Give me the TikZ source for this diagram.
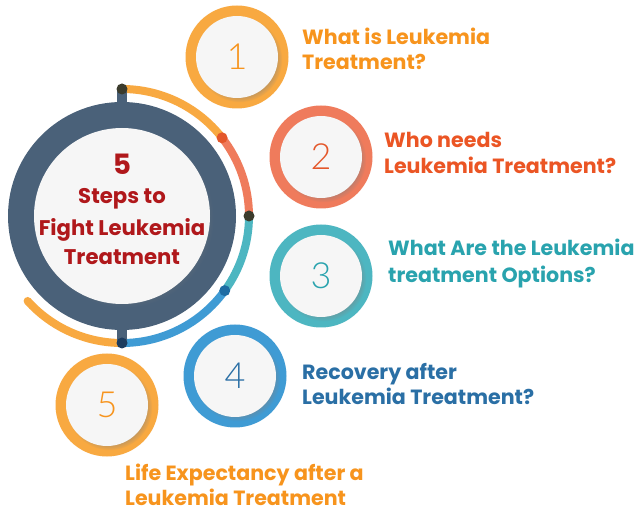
\documentclass[tikz,border=0pt]{standalone}
\usepackage{fontspec}
\usetikzlibrary{shadows}
\setmainfont{Poppins}
\newfontfamily\digitfont{Lato Light}
\definecolor{slate}{HTML}{4A6179}
\definecolor{ringOr}{HTML}{F8A941}
\definecolor{ringSa}{HTML}{EF7B5C}
\definecolor{ringTe}{HTML}{4DB6C1}
\definecolor{ringBl}{HTML}{3F9BD4}
\definecolor{txOr}{HTML}{F7941D}
\definecolor{txRe}{HTML}{EB5524}
\definecolor{txTe}{HTML}{29A3AE}
\definecolor{txBl}{HTML}{2A6FA5}
\definecolor{ctr}{HTML}{B0181B}
\definecolor{paper}{HTML}{F6F6F6}
\definecolor{dotOl}{HTML}{3B3B2C}
\definecolor{dotRe}{HTML}{E4572A}
\definecolor{dotBl}{HTML}{1E6CA3}
\definecolor{dotNv}{HTML}{1D3C5E}
\tikzset{
  smallring/.style={circle,minimum size=103pt,inner sep=0pt},
  smallin/.style={circle,minimum size=82pt,inner sep=0pt,fill=paper,
    circular drop shadow={shadow xshift=2.5pt,shadow yshift=-2.5pt,shadow scale=1.04,opacity=0.45}},
  digit/.style={font=\digitfont\fontsize{36}{36}\selectfont},
  lbl/.style={anchor=base west,inner sep=0pt,font=\bfseries\fontsize{20.6}{20.6}\selectfont},
  ctrtxt/.style={anchor=base,inner sep=0pt,text=ctr,font=\bfseries\fontsize{21.2}{21.2}\selectfont},
  dotmark/.style={circle,inner sep=0pt,minimum size=11pt}
}
\begin{document}
\begin{tikzpicture}[x=1pt,y=1pt]
\useasboundingbox[fill=white] (0,0) rectangle (640,-518);
\coordinate (C) at (122,-216);
% outer arc
\draw[ringOr,line width=8pt] ([shift={(90:127)}]C) arc[start angle=90,end angle=38,radius=127];
\draw[ringSa,line width=8pt] ([shift={(38:127)}]C) arc[start angle=38,end angle=0,radius=127];
\draw[ringTe,line width=8pt] ([shift={(0:127)}]C) arc[start angle=0,end angle=-36,radius=127];
\draw[ringBl,line width=8pt] ([shift={(-36:127)}]C) arc[start angle=-36,end angle=-90,radius=127];
\draw[ringOr,line width=8pt,line cap=round] ([shift={(-90:127)}]C) arc[start angle=-90,end angle=-138,radius=127];
% stems
\coordinate (stT) at (122,-89);
\coordinate (stB) at (122,-343);
\draw[slate,line width=10pt] (stT) -- (C);
\draw[slate,line width=10pt] (stB) -- (C);
% main ring
\node[circle,fill=slate,minimum size=228pt,inner sep=0pt] (mainout) at (C) {};
\node[circle,fill=paper,minimum size=176pt,inner sep=0pt,
  circular drop shadow={shadow xshift=2pt,shadow yshift=-2pt,shadow scale=1.02,opacity=0.35}] (main) at (C) {};
% dots
\node[dotmark,fill=dotOl] (d1) at ([shift={(90:127)}]C) {};
\node[dotmark,fill=dotRe] (d2) at ([shift={(38:127)}]C) {};
\node[dotmark,fill=dotOl] (d3) at ([shift={(0:127)}]C) {};
\node[dotmark,fill=dotBl] (d4) at ([shift={(-36:127)}]C) {};
\node[dotmark,fill=dotNv] (d5) at ([shift={(-90:127)}]C) {};
% center text
\node[ctrtxt,font=\bfseries\fontsize{28}{28}\selectfont] (c1) at (122,-175) {5};
\node[ctrtxt] (c2) at (122,-204) {Steps to};
\node[ctrtxt] (c3) at (122,-236) {Fight Leukemia};
\node[ctrtxt] (c4) at (122,-265) {Treatment};
% small circles
\node[smallring,fill=ringOr] (s1) at (237,-57) {};
\node[smallring,fill=ringSa] (s2) at (321,-157) {};
\node[smallring,fill=ringTe] (s3) at (321,-276) {};
\node[smallring,fill=ringBl] (s4) at (235,-376) {};
\node[smallring,fill=ringOr] (s5) at (107,-405) {};
\node[smallin] (i1) at (s1) {};
\node[smallin] (i2) at (s2) {};
\node[smallin] (i3) at (s3) {};
\node[smallin] (i4) at (s4) {};
\node[smallin] (i5) at (s5) {};
\node[digit,text=txOr] (n1) at (s1) {1};
\node[digit,text=dotRe] (n2) at (s2) {2};
\node[digit,text=txTe] (n3) at (s3) {3};
\node[digit,text=txBl] (n4) at (s4) {4};
\node[digit,text=txOr] (n5) at (s5) {5};
% labels
\node[lbl,text=txOr] (l1a) at (302,-45) {What is Leukemia};
\node[lbl,text=txOr] (l1b) at (302,-70) {Treatment?};
\node[lbl,text=txRe] (l2a) at (384,-148) {Who needs};
\node[lbl,text=txRe] (l2b) at (384,-174) {Leukemia Treatment?};
\node[lbl,text=txTe] (l3a) at (388,-256) {What Are the Leukemia};
\node[lbl,text=txTe] (l3b) at (388,-283) {treatment Options?};
\node[lbl,text=txBl] (l4a) at (302,-380) {Recovery after};
\node[lbl,text=txBl] (l4b) at (302,-405) {Leukemia Treatment?};
\node[lbl,text=txOr] (l5a) at (125,-480) {Life Expectancy after a};
\node[lbl,text=txOr] (l5b) at (125,-505) {Leukemia Treatment};
\end{tikzpicture}
\end{document}
